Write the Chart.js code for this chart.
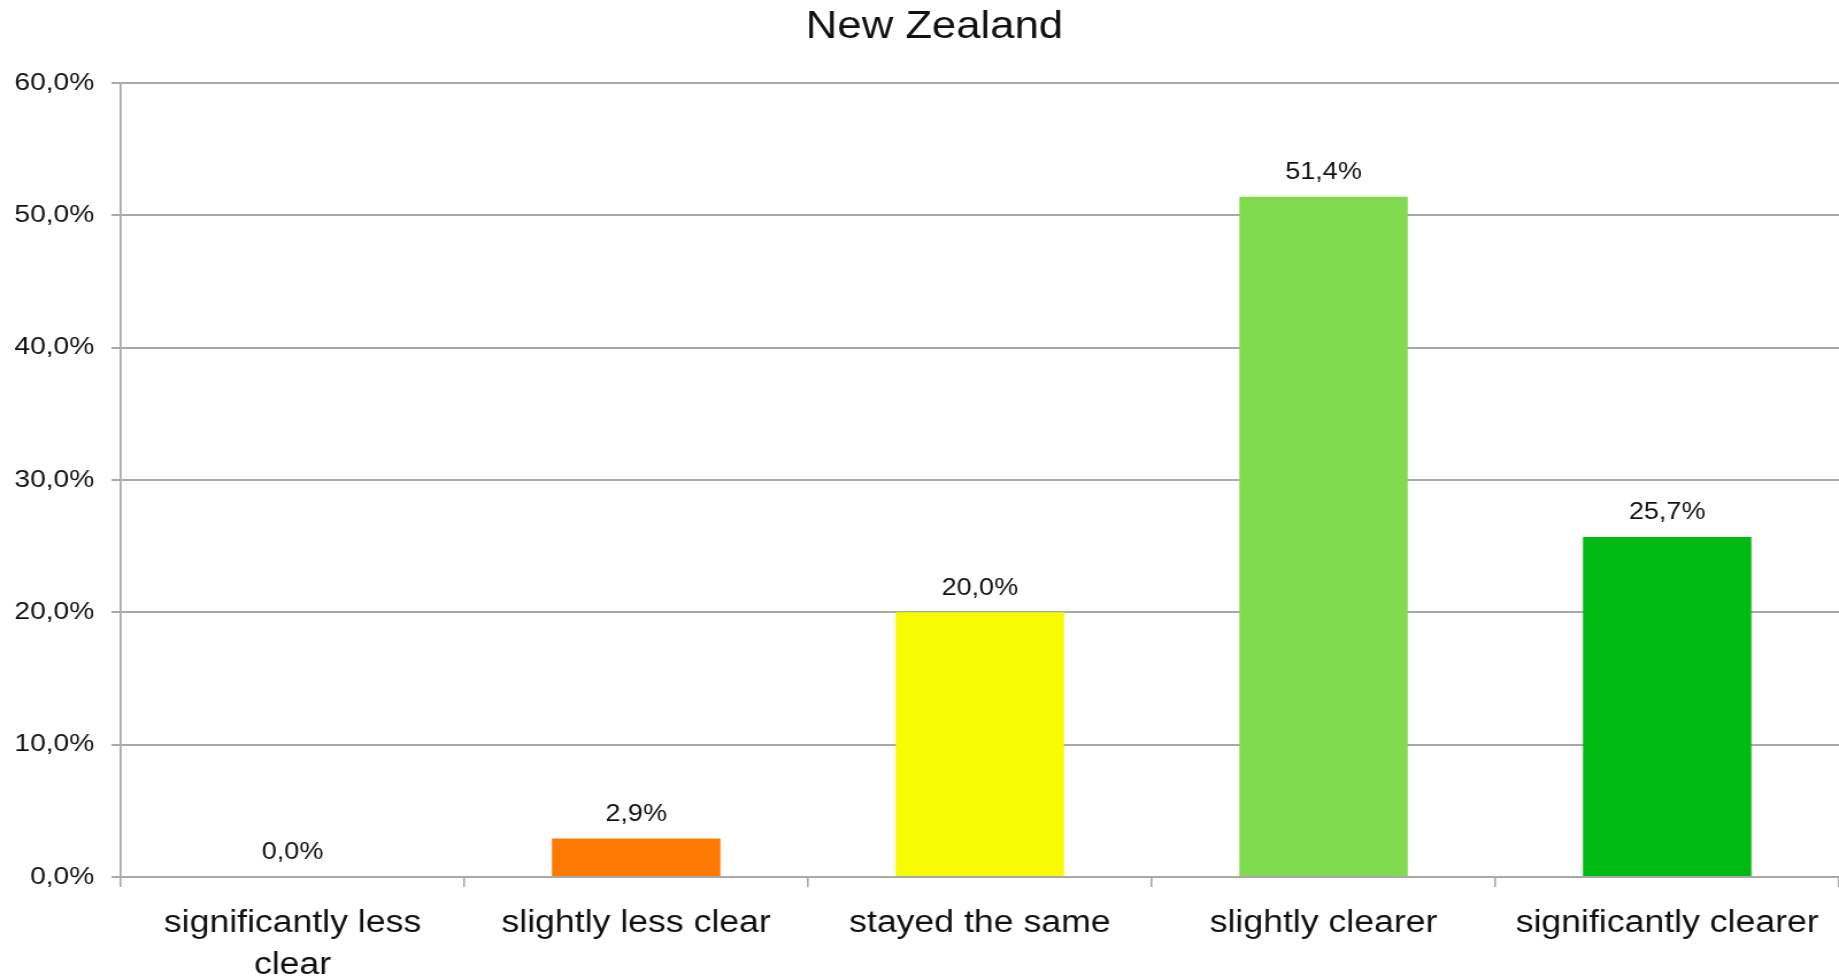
<!DOCTYPE html>
<html>
<head>
<meta charset="utf-8">
<title>New Zealand</title>
<script src="https://cdn.jsdelivr.net/npm/chart.js@4/dist/chart.umd.min.js"></script>
<style>
    html, body { margin: 0; padding: 0; background: #fff; overflow: hidden; }
    /* the source picture is a bit wider than tall, so the canvas is stretched sideways */
    #nzChart { display: block; width: 1839px !important; height: 980px !important; }
</style>
</head>
<body>
<canvas id="nzChart" width="1600" height="980"></canvas>
<script>
// --- Data ---
const categories = [
    ['significantly less', 'clear'],
    'slightly less clear',
    'stayed the same',
    'slightly clearer',
    'significantly clearer'
];
const shares = [0.0, 2.9, 20.0, 51.4, 25.7];
const barColors = ['#ff7a00', '#ff7a00', '#f8fc00', '#80dc4e', '#00ba14'];
const yTicks = [0, 10, 20, 30, 40, 50, 60];
const chartTitle = 'New Zealand';

const FONT = "'Liberation Sans', Arial, Helvetica, sans-serif";
const TEXT_COLOR = '#111';

// comma as decimal mark, like the original
function pct(v) {
    return v.toFixed(1).replace('.', ',') + '%';
}

/**
 * Title sits a little left of the plot centre in the original,
 * so it is drawn by hand instead of the built-in title box
 */
const titleText = {
    id: 'titleText',
    afterDraw(chart) {
        const ctx = chart.ctx;
        ctx.save();
        ctx.font = `38px ${FONT}`;
        ctx.fillStyle = TEXT_COLOR;
        ctx.textAlign = 'center';
        ctx.textBaseline = 'middle';
        ctx.fillText(chartTitle, 813, 28);
        ctx.restore();
    }
};

/**
 * Writes the value above every bar
 */
const valueLabels = {
    id: 'valueLabels',
    afterDatasetsDraw(chart) {
        const ctx = chart.ctx;
        const meta = chart.getDatasetMeta(0);
        ctx.save();
        ctx.font = `23.5px ${FONT}`;
        ctx.fillStyle = TEXT_COLOR;
        ctx.textAlign = 'center';
        ctx.textBaseline = 'middle';
        meta.data.forEach((bar, i) => {
            ctx.fillText(pct(shares[i]), bar.x, bar.y - 24);
        });
        ctx.restore();
    }
};

new Chart(document.getElementById('nzChart'), {
    type: 'bar',
    data: {
        labels: categories,
        datasets: [{
            data: shares,
            backgroundColor: barColors,
            borderWidth: 0,
            barPercentage: 0.49,
            categoryPercentage: 1.0
        }]
    },
    options: {
        responsive: false,
        animation: false,
        devicePixelRatio: 1,
        layout: { padding: { left: 0, right: -5, top: 83, bottom: 0 } },
        plugins: {
            legend: { display: false },
            tooltip: { enabled: false },
            title: { display: false }
        },
        scales: {
            x: {
                offset: true,
                grid: {
                    offset: true,
                    drawOnChartArea: false,
                    drawTicks: true,
                    tickLength: 10,
                    color: '#a8a8a8',
                    lineWidth: 1.6
                },
                border: { display: true, color: '#a8a8a8', width: 2 },
                ticks: {
                    color: TEXT_COLOR,
                    font: { family: FONT, size: 31, lineHeight: 1.35 },
                    padding: 16,
                    maxRotation: 0,
                    autoSkip: false
                },
                afterFit(scale) { scale.height = 103; }
            },
            y: {
                min: yTicks[0],
                max: yTicks[yTicks.length - 1],
                afterBuildTicks(scale) {
                    scale.ticks = yTicks.map(v => ({ value: v }));
                },
                grid: {
                    color: '#a8a8a8',
                    lineWidth: 2,
                    drawTicks: true,
                    tickLength: 8
                },
                border: { display: true, color: '#a8a8a8', width: 1.8 },
                ticks: {
                    color: TEXT_COLOR,
                    font: { family: FONT, size: 24.5 },
                    padding: 15,
                    callback: (v) => pct(v)
                },
                afterFit(scale) { scale.width = 105; }
            }
        }
    },
    plugins: [valueLabels, titleText]
});
</script>
</body>
</html>
